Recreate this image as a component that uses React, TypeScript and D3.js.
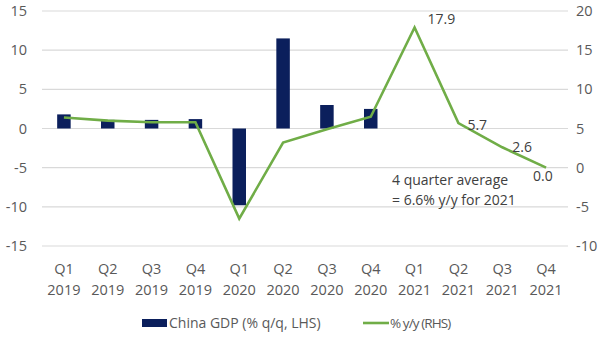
import React from "react";
import * as d3 from "d3";

const quarters = ["Q1", "Q2", "Q3", "Q4", "Q1", "Q2", "Q3", "Q4", "Q1", "Q2", "Q3", "Q4"];
const years = ["2019", "2019", "2019", "2019", "2020", "2020", "2020", "2020", "2021", "2021", "2021", "2021"];
const gdpQoQ: (number | null)[] = [1.8, 1.1, 1.1, 1.2, -9.8, 11.5, 3.0, 2.5, null, null, null, null];
const gdpYoY = [6.4, 6.0, 5.8, 5.8, -6.5, 3.2, 4.9, 6.5, 17.9, 5.7, 2.6, 0.0];
const labelledIdx = [8, 9, 10, 11];
const leftTicks = [-15, -10, -5, 0, 5, 10, 15];
const rightTicks = [-10, -5, 0, 5, 10, 15, 20];

const W = 611;
const H = 338;
const FONT = "'Open Sans', sans-serif";
const TEXT = "#595959";
const NAVY = "#0b1f5c";
const GREEN = "#70ad47";

export default function App() {
  const cats = quarters.map((q, i) => `${q} ${years[i]}`);
  const x = d3.scaleBand<string>().domain(cats).range([42, 568]);
  const yL = d3.scaleLinear().domain([-15, 15]).range([246, 11]);
  const yR = d3.scaleLinear().domain([-10, 20]).range([246, 11]);
  const cx = (i: number) => (x(cats[i]) ?? 0) + x.bandwidth() / 2;
  const barW = 13.5;

  const line = d3
    .line<number>()
    .x((_, i) => cx(i))
    .y((d) => yR(d));

  const labelOffsets: Record<number, [number, number]> = {
    8: [13, -8],
    9: [9, 2],
    10: [10, 0],
    11: [-13, 8],
  };

  return (
    <svg width={W} height={H} style={{ position: "absolute", left: 0, top: 0, background: "#fff" }} fontFamily={FONT}>
      {leftTicks.map((t) => (
        <line key={"g" + t} x1={42} x2={568} y1={yL(t)} y2={yL(t)} stroke="#d9d9d9" strokeWidth={1.2} />
      ))}
      {leftTicks.map((t) => (
        <text key={"l" + t} x={27} y={yL(t)} dy="0.35em" textAnchor="end" fontSize={14.5} fill={TEXT}>
          {t}
        </text>
      ))}
      {rightTicks.map((t) => (
        <text key={"r" + t} x={576} y={yR(t)} dy="0.35em" textAnchor="start" fontSize={14.5} fill={TEXT}>
          {t}
        </text>
      ))}
      {gdpQoQ.map((v, i) =>
        v === null ? null : (
          <rect
            key={"b" + i}
            x={cx(i) - barW / 2}
            width={barW}
            y={Math.min(yL(v), yL(0))}
            height={Math.abs(yL(v) - yL(0))}
            fill={NAVY}
          />
        )
      )}
      <path d={line(gdpYoY) ?? ""} fill="none" stroke={GREEN} strokeWidth={2.6} strokeLinejoin="miter" />
      {labelledIdx.map((i) => {
        const [dx, dy] = labelOffsets[i];
        return (
          <text key={"v" + i} x={cx(i) + dx} y={yR(gdpYoY[i]) + dy} dy="0.35em" textAnchor="start" fontSize={14} fill="#404040">
            {gdpYoY[i].toFixed(1)}
          </text>
        );
      })}
      <text x={392} y={180} dy="0.35em" fontSize={14} fill="#404040">4 quarter average</text>
      <text x={392} y={200} dy="0.35em" fontSize={14} fill="#404040">= 6.6% y/y for 2021</text>
      {cats.map((c, i) => (
        <g key={"x" + i}>
          <text x={cx(i)} y={269} dy="0.35em" textAnchor="middle" fontSize={14.5} fill={TEXT}>
            {quarters[i]}
          </text>
          <text x={cx(i)} y={290} dy="0.35em" textAnchor="middle" fontSize={14.5} fill={TEXT}>
            {years[i]}
          </text>
        </g>
      ))}
      <rect x={142} y={319} width={25} height={8} fill={NAVY} />
      <text x={169} y={323} dy="0.35em" fontSize={14} fill={TEXT}>China GDP (% q/q, LHS)</text>
      <line x1={363} x2={389} y1={323} y2={323} stroke={GREEN} strokeWidth={2.6} />
      <text x={390} y={323} dy="0.35em" fontSize={13.5} letterSpacing={-0.9} fill={TEXT}>% y/y (RHS)</text>
    </svg>
  );
}
